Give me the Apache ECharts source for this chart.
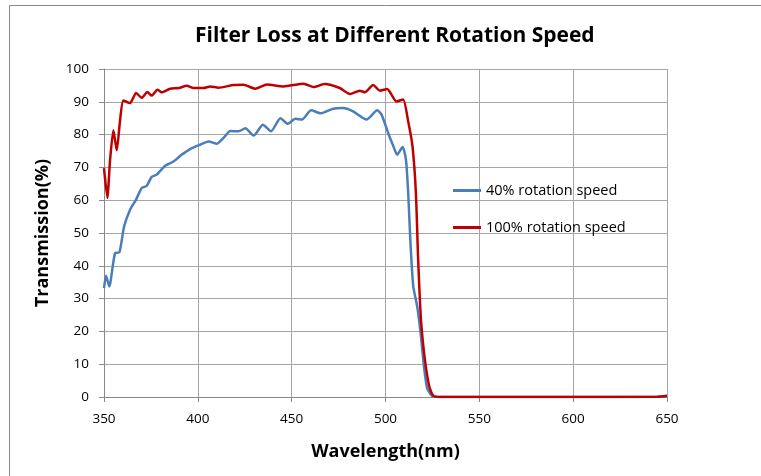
<!DOCTYPE html>
<html>
<head>
<meta charset="utf-8">
<script src="https://cdn.jsdelivr.net/npm/echarts@6/dist/echarts.min.js"></script>
<style>
  html, body { margin: 0; padding: 0; background: #fff; }
  #chart { width: 761px; height: 476px; }
</style>
</head>
<body>
<div id="chart"></div>
<script>
// data (wavelength in nm, transmission in %)
const wavelength40 = [350, 351.1, 352.8, 355.9, 358.2, 360.7, 363.9, 367.1, 370.1, 372.8, 375.4, 378.1, 382.6, 387, 391.5, 395.9, 401.2, 405.7, 410.1, 413.7, 417.3, 421.7, 425.3, 429.7, 434.7, 439, 444, 447.9, 452, 455.5, 460.4, 465.5, 472.1, 477.4, 482.7, 489.9, 495.6, 497.9, 501.4, 504.1, 506.2, 509.1, 510.9, 512.1, 513.3, 514.8, 516.9, 518.7, 520.5, 522.2, 524.6, 527.2, 600, 645, 650];
const transmission40 = [33.2, 37, 33.7, 43.9, 44.1, 52, 57.1, 60.2, 63.7, 64.4, 67.1, 67.8, 70.5, 71.8, 73.9, 75.6, 76.9, 77.9, 77.2, 79, 81.1, 81, 81.9, 79.7, 83, 81, 85, 83.3, 84.8, 84.6, 87.4, 86.5, 87.9, 88.1, 87.1, 84.6, 87.4, 86.1, 80.5, 76.6, 73.9, 76.2, 72.4, 62.2, 47, 33.7, 27.6, 19.5, 9.3, 2.7, 0.4, 0, 0, 0.1, 0.3];

const wavelength100 = [350, 351.8, 353.2, 355, 356.8, 358.5, 360.3, 363.9, 367.1, 370.1, 373.1, 375.4, 378.5, 380.8, 385.2, 390, 394.1, 397.7, 403, 406.6, 411, 419, 424.4, 430.6, 436.8, 445.7, 456.4, 461.7, 467.6, 475.6, 481, 486.3, 489, 493.4, 497, 500.9, 505.9, 509.4, 512.1, 514.4, 516.2, 517.4, 518.9, 521, 523.3, 525.4, 529, 600, 645, 650];
const transmission100 = [69.8, 60.7, 72, 81.3, 75.2, 84, 90.4, 89.6, 92.7, 91.2, 93, 91.9, 93.7, 92.9, 94, 94.2, 94.9, 94.2, 94.2, 94.7, 94.3, 95.1, 95.2, 94, 95.3, 94.7, 95.5, 94.5, 95.4, 94.2, 92.4, 93.4, 92.9, 95.1, 93.4, 93.9, 90.1, 90.7, 84, 76.4, 62.2, 41.9, 23.6, 11.4, 3.3, 0.4, 0, 0, 0.1, 0.4];

const seriesNames = ['40% rotation speed', '100% rotation speed'];
const seriesColors = ['#4A7EBB', '#C00000'];

const pairs = (xs, ys) => xs.map((x, i) => [x, ys[i]]);

const chart = echarts.init(document.getElementById('chart'));
const font = 'Open Sans';
chart.setOption({
  animation: false,
  title: {
    text: 'Filter Loss at Different Rotation Speed',
    left: 190,
    top: 21,
    textStyle: { fontFamily: font, fontWeight: 'bold', fontSize: 21, color: '#000' }
  },
  legend: {
    orient: 'vertical',
    left: 448,
    top: 178,
    itemGap: 22,
    itemWidth: 28,
    itemHeight: 3,
    icon: 'rect',
    data: seriesNames,
    textStyle: { fontFamily: font, fontSize: 14.5, color: '#000' }
  },
  grid: { left: 104, right: 94, top: 69, bottom: 79 },
  xAxis: {
    type: 'value',
    min: 350,
    max: 650,
    interval: 50,
    name: 'Wavelength(nm)',
    nameLocation: 'middle',
    nameGap: 46,
    nameTextStyle: { fontFamily: font, fontWeight: 'bold', fontSize: 18, color: '#000' },
    axisLine: { show: true, lineStyle: { color: '#888' } },
    axisTick: { show: true, length: 5, lineStyle: { color: '#888' } },
    axisLabel: { fontFamily: font, fontSize: 13.5, color: '#000', margin: 15 },
    splitLine: { show: true, lineStyle: { color: '#A6A6A6' } }
  },
  yAxis: {
    type: 'value',
    min: 0,
    max: 100,
    interval: 10,
    name: 'Transmission(%)',
    nameLocation: 'middle',
    nameGap: 52,
    nameTextStyle: { fontFamily: font, fontWeight: 'bold', fontSize: 18, color: '#000' },
    axisLine: { show: true, lineStyle: { color: '#888' } },
    axisTick: { show: true, length: 5, lineStyle: { color: '#888' } },
    axisLabel: { fontFamily: font, fontSize: 13.5, color: '#000', margin: 15 },
    splitLine: { show: true, lineStyle: { color: '#A6A6A6' } }
  },
  graphic: [{
    type: 'rect',
    shape: { x: 9.5, y: 5.5, width: 800, height: 500 },
    style: { fill: 'none', stroke: '#888', lineWidth: 1 },
    silent: true
  }, {
    type: 'line',
    shape: { x1: 667.5, y1: 69, x2: 667.5, y2: 397 },
    style: { stroke: '#A6A6A6', lineWidth: 1 },
    silent: true
  }],
  series: [{
    name: seriesNames[0],
    type: 'line',
    data: pairs(wavelength40, transmission40),
    showSymbol: false,
    smooth: 0.2,
    color: seriesColors[0],
    lineStyle: { width: 2.5 }
  }, {
    name: seriesNames[1],
    type: 'line',
    data: pairs(wavelength100, transmission100),
    showSymbol: false,
    smooth: 0.2,
    color: seriesColors[1],
    lineStyle: { width: 2.5 }
  }]
});
</script>
</body>
</html>
